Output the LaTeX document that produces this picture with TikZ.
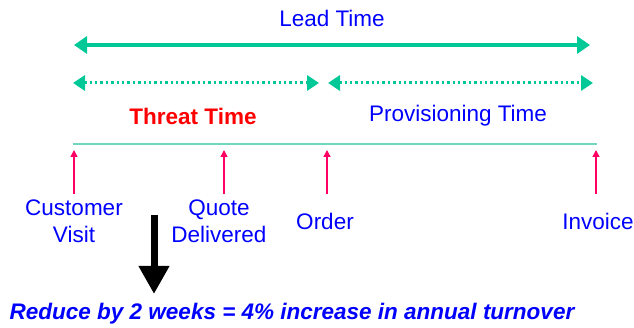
\documentclass[tikz,border=0pt]{standalone}
\usepackage{fontspec}
\setmainfont{Liberation Sans}
\usetikzlibrary{arrows.meta}
\definecolor{spangreen}{RGB}{0,200,150}
\definecolor{baseteal}{RGB}{110,215,190}
\definecolor{markred}{RGB}{255,0,100}
\definecolor{labelblue}{RGB}{0,0,255}
\definecolor{threatred}{RGB}{255,0,0}
\begin{document}
\begin{tikzpicture}[x=1pt,y=-1pt,
  lbl/.style={font=\fontsize{22.5}{27}\selectfont, text=labelblue, align=center, inner sep=0pt},
  span/.style={draw=spangreen, line width=3.5pt, {Triangle[length=13pt,width=17pt]}-{Triangle[length=13pt,width=17pt]}},
  dotspan/.style={draw=spangreen, line width=3pt, dash pattern=on 2.4pt off 3pt, {Triangle[length=12pt,width=15pt]}-{Triangle[length=12pt,width=15pt]}},
  marker/.style={draw=markred, line width=1.4pt, -{Triangle[length=7pt,width=7pt]}},
  bigarrow/.style={line width=7pt, -{Triangle[length=28pt,width=29pt]}}]
\useasboundingbox (0,0) rectangle (634,328);

% spans
\coordinate (leadL) at (74,45);
\coordinate (leadR) at (590,45);
\draw[span] (leadL) -- (leadR);
\node[lbl] (lead) at (332,18) {Lead Time};

\coordinate (thrL) at (73,83);
\coordinate (thrR) at (319,83);
\draw[dotspan] (thrL) -- (thrR);
\coordinate (proL) at (328,83);
\coordinate (proR) at (593,83);
\draw[dotspan] (proL) -- (proR);

\node[lbl, text=threatred, font=\fontsize{22.5}{27}\selectfont\bfseries] (threat) at (193,116) {Threat Time};
\node[lbl] (prov) at (458,116) {Provisioning Time};

% time axis
\coordinate (axisL) at (73,144);
\coordinate (axisR) at (597,144);
\draw[baseteal, line width=2pt] (axisL) -- (axisR);

% event markers
\foreach \n/\x in {visit/74, quote/224, order/327, invoice/596}{
  \coordinate (\n tail) at (\x,194);
  \coordinate (\n tip) at (\x,150);
  \draw[marker] (\n tail) -- (\n tip);
}

\node[lbl] (visit) at (74,221) {Customer\\Visit};
\node[lbl] (quote) at (219,221) {Quote\\Delivered};
\node[lbl] (order) at (325,221) {Order};
\node[lbl] (invoice) at (598,221) {Invoice};

% outcome
\coordinate (downA) at (154,215);
\coordinate (downB) at (154,294);
\draw[bigarrow] (downA) -- (downB);
\node[lbl, font=\fontsize{22.5}{27}\selectfont\bfseries\itshape] (outcome) at (292,314) {Reduce by 2 weeks = 4\% increase in annual turnover};
\end{tikzpicture}
\end{document}
